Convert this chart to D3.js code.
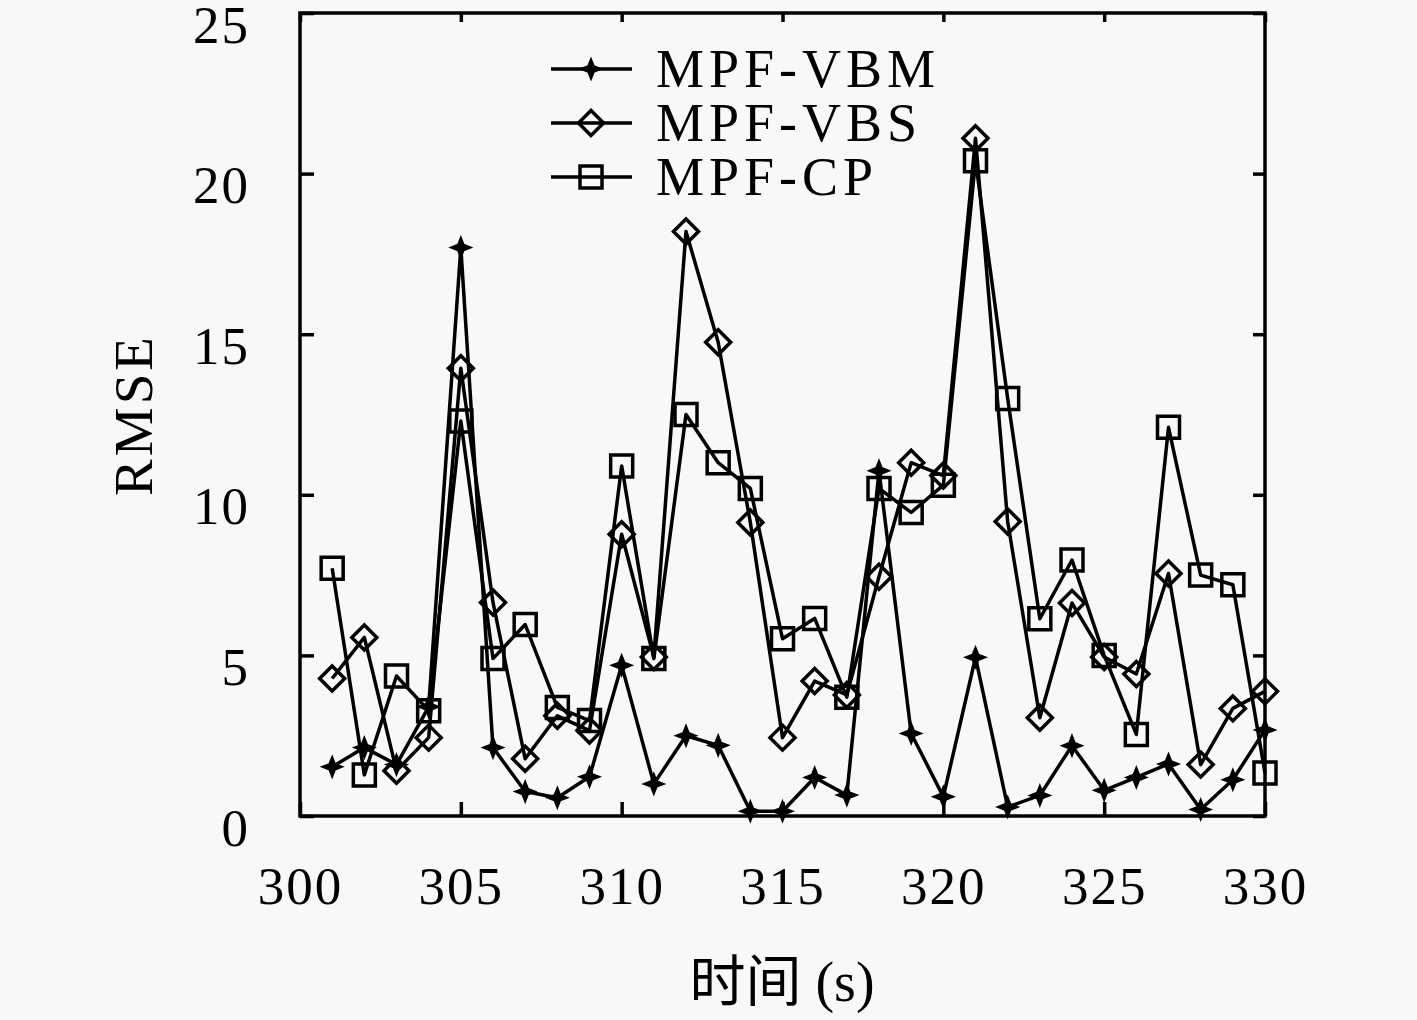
<!DOCTYPE html>
<html>
<head>
<meta charset="utf-8">
<script src="https://cdn.jsdelivr.net/npm/d3@7"></script>
<style>
  html, body { margin: 0; padding: 0; background: #f8f8f8; }
  svg { display: block; }
  text { font-family: "Liberation Serif", "Noto Sans CJK SC", serif; fill: #000; }
</style>
</head>
<body>
<div id="chart"></div>
<script>
// datos
const tiempos = d3.range(301, 331);
const vbm = [1.53, 2.13, 1.6, 3.4, 17.7, 2.13, 0.76, 0.57, 1.22, 4.69,
             1.0, 2.5, 2.2, 0.15, 0.15, 1.2, 0.65, 10.75, 2.57, 0.6,
             4.94, 0.28, 0.64, 2.19, 0.8, 1.2, 1.62, 0.2, 1.13, 2.68];
const vbs = [4.28, 5.56, 1.41, 2.44, 13.94, 6.65, 1.78, 3.12, 2.66, 8.77,
             4.95, 18.2, 14.75, 9.14, 2.44, 4.2, 3.77, 7.45, 11.0, 10.6,
             21.1, 9.17, 3.06, 6.63, 4.95, 4.42, 7.55, 1.6, 3.35, 3.88];
const cp = [7.71, 1.28, 4.36, 3.28, 12.3, 4.9, 5.96, 3.38, 2.97, 10.9,
            4.9, 12.5, 11.0, 10.2, 5.52, 6.15, 3.7, 10.2, 9.45, 10.3,
            20.4, 13.0, 6.14, 7.97, 5.0, 2.54, 12.1, 7.5, 7.2, 1.34];
const nombres = ["MPF-VBM", "MPF-VBS", "MPF-CP"];
const xTicks = [300, 305, 310, 315, 320, 325, 330];
const yTicks = [0, 5, 10, 15, 20, 25];

const width = 1417, height = 1020;
const margin = { left: 300, right: 152, top: 13, bottom: 204 };

const svg = d3.select("#chart").append("svg")
    .attr("width", width)
    .attr("height", height);

const x = d3.scaleLinear().domain([300, 330]).range([margin.left, width - margin.right]);
const y = d3.scaleLinear().domain([0, 25]).range([height - margin.bottom, margin.top]);

// marcadores
const estrella = r => {
    const r2 = r * 0.4;
    const pts = [];
    for (let i = 0; i < 8; i++) {
        const a = i * Math.PI / 4 - Math.PI / 2;
        const rr = i % 2 === 0 ? r : r2;
        pts.push([rr * Math.cos(a), rr * Math.sin(a)]);
    }
    return "M" + pts.join("L") + "Z";
};
const rombo = r => `M0,${-r}L${r},0L0,${r}L${-r},0Z`;
const cuadrado = r => `M${-r},${-r}H${r}V${r}H${-r}Z`;

const series = [
    { nombre: nombres[0], valores: vbm, simbolo: estrella(10.5), relleno: "#000" },
    { nombre: nombres[1], valores: vbs, simbolo: rombo(12.5), relleno: "none" },
    { nombre: nombres[2], valores: cp, simbolo: cuadrado(11), relleno: "none" }
];

const grosor = 3.5;

// ejes con marcas hacia dentro
svg.append("g")
    .attr("transform", `translate(0,${y(0)})`)
    .call(d3.axisBottom(x).tickValues(xTicks).tickSizeInner(-14).tickSizeOuter(0).tickPadding(50))
    .call(g => g.select(".domain").remove())
    .call(g => g.selectAll("line").attr("stroke-width", grosor));

svg.append("g")
    .attr("transform", `translate(0,${y(25)})`)
    .call(d3.axisTop(x).tickValues(xTicks).tickSizeInner(-9).tickSizeOuter(0).tickFormat(""))
    .call(g => g.select(".domain").remove())
    .call(g => g.selectAll("line").attr("stroke-width", grosor));

svg.append("g")
    .attr("transform", `translate(${x(300)},0)`)
    .call(d3.axisLeft(y).tickValues(yTicks).tickSizeInner(-14).tickSizeOuter(0).tickPadding(50))
    .call(g => g.select(".domain").remove())
    .call(g => g.selectAll("line").attr("stroke-width", grosor))
    .call(g => g.selectAll("text").attr("dy", "0.55em"));

svg.append("g")
    .attr("transform", `translate(${x(330)},0)`)
    .call(d3.axisRight(y).tickValues(yTicks).tickSizeInner(-12).tickSizeOuter(0).tickFormat(""))
    .call(g => g.select(".domain").remove())
    .call(g => g.selectAll("line").attr("stroke-width", grosor));

svg.selectAll(".tick text")
    .attr("font-family", "'Liberation Serif', serif")
    .style("font-size", "53px")
    .style("letter-spacing", "2px");

svg.append("rect")
    .attr("x", x(300))
    .attr("y", y(25))
    .attr("width", x(330) - x(300))
    .attr("height", y(0) - y(25))
    .attr("fill", "none")
    .attr("stroke", "#000")
    .attr("stroke-width", grosor);

// líneas y puntos
const linea = d3.line()
    .x((d, i) => x(tiempos[i]))
    .y(d => y(d));

series.forEach(s => {
    svg.append("path")
        .datum(s.valores)
        .attr("d", linea)
        .attr("fill", "none")
        .attr("stroke", "#000")
        .attr("stroke-width", grosor)
        .attr("stroke-linejoin", "round");

    svg.append("g").selectAll("path")
        .data(s.valores)
        .enter()
        .append("path")
        .attr("transform", (d, i) => `translate(${x(tiempos[i])},${y(d)})`)
        .attr("d", s.simbolo)
        .attr("fill", s.relleno)
        .attr("stroke", "#000")
        .attr("stroke-width", s.relleno === "none" ? grosor : 1.5);
});

// leyenda
const legend = svg.append("g").attr("transform", "translate(551,69)");
series.forEach((s, i) => {
    const fila = legend.append("g").attr("transform", `translate(0,${i * 54})`);
    fila.append("line")
        .attr("x1", 0).attr("x2", 81)
        .attr("stroke", "#000").attr("stroke-width", grosor);
    fila.append("path")
        .attr("transform", "translate(40,0)")
        .attr("d", s.simbolo)
        .attr("fill", s.relleno)
        .attr("stroke", "#000")
        .attr("stroke-width", s.relleno === "none" ? grosor : 1.5);
    fila.append("text")
        .attr("x", 105)
        .attr("y", 18)
        .style("font-size", "54px")
        .style("letter-spacing", "5px")
        .text(s.nombre);
});

// títulos de ejes
svg.append("text")
    .attr("transform", `translate(152,415) rotate(-90)`)
    .attr("text-anchor", "middle")
    .style("font-size", "55px")
    .style("letter-spacing", "3px")
    .text("RMSE");

svg.append("text")
    .attr("x", 782)
    .attr("y", 1001)
    .attr("text-anchor", "middle")
    .style("font-size", "56px")
    .text("时间 (s)");
</script>
</body>
</html>
